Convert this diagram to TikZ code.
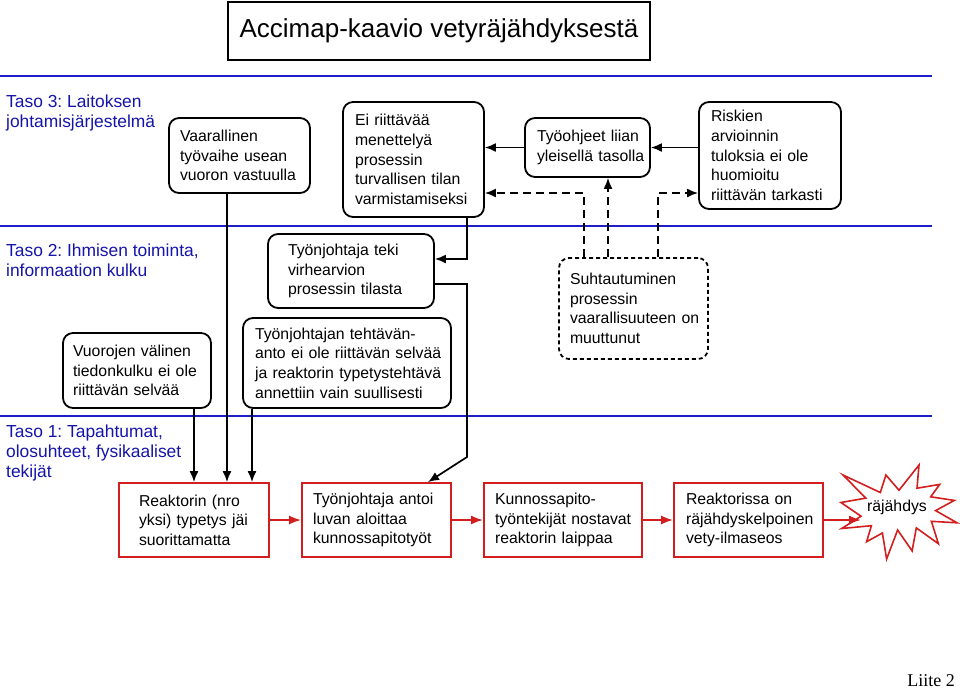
\documentclass[tikz,border=0pt]{standalone}
\usepackage{fontspec}
\setmainfont{Liberation Sans}
\newfontfamily\serifface{Liberation Serif}
\usetikzlibrary{arrows.meta}
\definecolor{lvlblue}{RGB}{20,20,170}
\definecolor{lineblue}{RGB}{30,30,200}
\definecolor{boxred}{RGB}{210,30,30}
\frenchspacing
\newcommand{\nodefont}{\fontsize{15.8}{19.6}\selectfont\hyphenpenalty=10000\exhyphenpenalty=10000}
\begin{document}
\begin{tikzpicture}[x=1pt,y=-1pt,
  basetxt/.style={inner sep=0pt, align=left, font=\nodefont},
  rbox/.style={basetxt, draw=black, line width=1.8pt, rounded corners=10pt},
  dbox/.style={rbox, dash pattern=on 4pt off 3pt},
  ebox/.style={basetxt, draw=boxred, line width=1.8pt, minimum height=74pt},
  arr/.style={draw=black, line width=1.7pt, -{Latex[length=11pt,width=9pt]}},
  dsh/.style={arr, dash pattern=on 8pt off 5pt},
  redarr/.style={draw=boxred, line width=1.8pt, -{Latex[length=12pt,width=9pt]}},
  lvl/.style={inner sep=0pt, align=left, text=lvlblue, font=\fontsize{17.4}{20}\selectfont, anchor=north west},
  sep/.style={draw=lineblue, line width=1.8pt}
]
\useasboundingbox (0,0) rectangle (960,689);

% title
\node[draw=black, line width=1.5pt, minimum width=422pt, minimum height=58pt, inner sep=0pt,
      font=\fontsize{26}{30}\selectfont] (title) at (439,31) {Accimap-kaavio vetyräjähdyksestä};

% level separators
\coordinate (s1a) at (0,76);   \coordinate (s1b) at (932,76);
\coordinate (s2a) at (0,226);  \coordinate (s2b) at (932,226);
\coordinate (s3a) at (0,416);  \coordinate (s3b) at (932,416);
\draw[sep] (s1a) -- (s1b);
\draw[sep] (s2a) -- (s2b);
\draw[sep] (s3a) -- (s3b);

% level labels
\node[lvl] (lv3) at (6,95) {Taso 3: Laitoksen\\johtamisjärjestelmä};
\node[lvl] (lv2) at (6,244) {Taso 2: Ihmisen toiminta,\\informaation kulku};
\node[lvl] (lv1) at (6,425) {Taso 1: Tapahtumat,\\olosuhteet, fysikaaliset\\tekijät};

% level 3 nodes
\node[rbox, minimum width=141pt, minimum height=75pt, text width=119pt] (vaar) at (239.5,155.5)
  {Vaarallinen\\työvaihe~usean\\vuoron~vastuulla};
\node[rbox, minimum width=141pt, minimum height=115pt, text width=117pt] (eiriit) at (413.5,159.5)
  {Ei~riittävää\\menettelyä\\prosessin\\turvallisen~tilan\\varmistamiseksi};
\node[rbox, minimum width=125pt, minimum height=59pt, text width=101pt] (tyo) at (587.5,147.5)
  {Työohjeet~liian\\yleisellä~tasolla};
\node[rbox, minimum width=142pt, minimum height=107pt, text width=118pt] (risk) at (770,155.5)
  {Riskien\\arvioinnin\\tuloksia~ei~ole\\huomioitu\\riittävän~tarkasti};

% level 2 nodes
\node[rbox, minimum width=166pt, minimum height=74pt, text width=126pt] (tj) at (351,271)
  {Työnjohtaja~teki\\virhearvion\\prosessin~tilasta};
\node[rbox, minimum width=208pt, minimum height=90pt, text width=184pt] (teht) at (347,363)
  {Työnjohtajan~tehtävän-\\anto~ei~ole~riittävän~selvää\\ja~reaktorin~typetystehtävä\\annettiin~vain~suullisesti};
\node[rbox, minimum width=148pt, minimum height=75pt, text width=128pt] (vuor) at (137,370.5)
  {Vuorojen~välinen\\tiedonkulku~ei~ole\\riittävän~selvää};
\node[dbox, minimum width=149pt, minimum height=101pt, text width=127pt] (suht) at (633.5,308.5)
  {Suhtautuminen\\prosessin\\vaarallisuuteen~on\\muuttunut};

% level 1 nodes
\node[ebox, minimum width=150pt, text width=110pt] (reak) at (194,520)
  {Reaktorin~(nro\\yksi)~typetys~jäi\\suorittamatta};
\node[ebox, minimum width=149pt, text width=127pt] (tja) at (376.5,520)
  {Työnjohtaja~antoi\\luvan~aloittaa\\kunnossapitotyöt};
\node[ebox, minimum width=158pt, text width=136pt] (kun) at (563,520)
  {Kunnossapito-\\työntekijät~nostavat\\reaktorin~laippaa};
\node[ebox, minimum width=149pt, text width=125pt] (rea2) at (748.5,520)
  {Reaktorissa~on\\räjähdyskelpoinen\\vety-ilmaseos};

% explosion
\draw[draw=boxred, line width=1.6pt, fill=white]
  (899,490.2) -- (919,465) -- (917,488.2) -- (939.7,484.4) -- (930.7,496.8) -- (954.3,500.4)
  -- (935.6,510.6) -- (957,522.8) -- (931.4,521.3) -- (938.4,543.7) -- (916.3,527.9)
  -- (912.1,550.9) -- (897.6,530) -- (886.6,559) -- (882.4,533) -- (866.6,541.7)
  -- (871.4,525.7) -- (841.7,528.5) -- (861,516.2) -- (841,502.5) -- (865.8,498.1)
  -- (843,475) -- (880.3,492.5) -- (885.9,475) -- cycle;
\node[basetxt] (burst) at (897,507) {räjähdys};
\coordinate (burstin) at (861,520);

% red chain
\draw[redarr] (reak.east) -- (tja.west);
\draw[redarr] (tja.east) -- (kun.west);
\draw[redarr] (kun.east) -- (rea2.west);
\draw[redarr] (rea2.east) -- (burstin);

% level 3 solid links
\draw[arr] (risk.west |- tyo.east) -- (tyo.east);
\draw[arr] (tyo.west) -- (eiriit.east |- tyo.west);

% dashed links from attitude node
\coordinate (d1) at ([xshift=-49.5pt]suht.north);
\coordinate (d2) at ([xshift=-25.5pt]suht.north);
\coordinate (d3) at ([xshift=24.5pt]suht.north);
\draw[dsh] (d1) |- ([yshift=-33.5pt]eiriit.east);
\draw[dsh] (d2) -- (d2 |- tyo.south);
\draw[dsh] (d3) |- ([yshift=-37.5pt]risk.west);

% level 3 -> level 2 / level 1
\draw[arr] ([xshift=53.5pt]eiriit.south) |- ([yshift=12pt]tj.east);
\coordinate (bend) at (467,457);
\draw[arr] ([yshift=-13pt]tj.east) -| (bend) -- ([xshift=51.5pt]tja.north);

\coordinate (r2) at ([xshift=33pt]reak.north);
\coordinate (r3) at ([xshift=58pt]reak.north);
\draw[arr] (vuor.south -| reak.north) -- (reak.north);
\draw[arr] (vaar.south -| r2) -- (r2);
\draw[arr] (teht.south -| r3) -- (r3);

% appendix mark
\node[anchor=base east, inner sep=0pt, font=\serifface\fontsize{18}{20}\selectfont] (liite) at (955,686) {Liite 2};
\end{tikzpicture}
\end{document}
